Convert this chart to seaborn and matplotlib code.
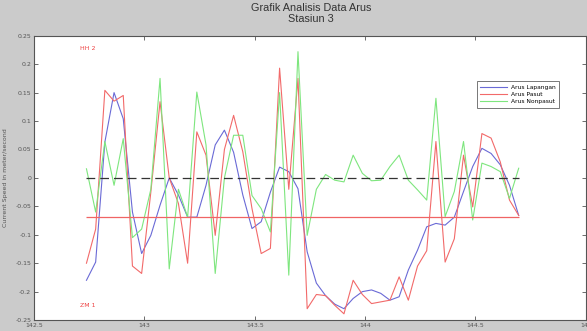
import numpy as np
import pandas as pd
import matplotlib
matplotlib.use("Agg")
import matplotlib.pyplot as plt
import seaborn as sns
from matplotlib.lines import Line2D

# ---- data ----
start_day = 142.7375          # first sample (day number)
n_hours = 48                  # hourly samples
arus_lapangan = [-0.180, -0.148, 0.063, 0.150, 0.104, -0.060, -0.133, -0.101, -0.048, 0.000,
                 -0.030, -0.069, -0.069, -0.013, 0.058, 0.084, 0.045, -0.030, -0.089, -0.077,
                 -0.025, 0.019, 0.011, -0.019, -0.130, -0.185, -0.207, -0.222, -0.230, -0.212,
                 -0.200, -0.197, -0.203, -0.215, -0.209, -0.162, -0.127, -0.086, -0.080, -0.083,
                 -0.069, -0.024, 0.020, 0.052, 0.043, 0.023, -0.013, -0.066]
arus_pasut = [-0.150, -0.090, 0.154, 0.135, 0.145, -0.155, -0.168, -0.025, 0.134, 0.000,
              -0.045, -0.150, 0.081, 0.040, -0.101, 0.050, 0.110, 0.046, -0.054, -0.133,
              -0.124, 0.193, -0.020, 0.175, -0.230, -0.205, -0.207, -0.224, -0.239, -0.180,
              -0.205, -0.221, -0.218, -0.215, -0.174, -0.215, -0.155, -0.128, 0.064, -0.148,
              -0.107, 0.040, -0.051, 0.078, 0.070, 0.028, -0.039, -0.066]
arus_nonpasut = [0.016, -0.060, 0.064, -0.013, 0.069, -0.105, -0.090, -0.020, 0.175, -0.160,
                 -0.020, -0.069, 0.151, 0.058, -0.168, 0.000, 0.075, 0.075, -0.031, -0.054,
                 -0.095, 0.150, -0.171, 0.222, -0.101, -0.020, 0.006, -0.004, -0.007, 0.040,
                 0.008, -0.005, -0.004, 0.020, 0.040, -0.004, -0.021, -0.039, 0.140, -0.068,
                 -0.024, 0.064, -0.074, 0.026, 0.020, 0.011, -0.036, 0.017]
series_names = ["Arus Lapangan", "Arus Pasut", "Arus Nonpasut"]
ref_levels = [0.0, -0.068]                 # dashed zero line, red level line
level_labels = ["HH 2", "ZM 1"]
level_label_y = [0.228, -0.224]
x_ticks = [142.5, 143, 143.5, 144, 144.5, 145]
x_ticklabels = ["142.5", "143", "143.5", "144", "144.5", "145"]
y_ticks = [0.25, 0.2, 0.15, 0.1, 0.05, 0, -0.05, -0.1, -0.15, -0.2, -0.25]
y_ticklabels = ["0.25", "0.2", "0.15", "0.1", "0.05", "0", "-0.05", "-0.1", "-0.15", "-0.2", "-0.25"]

hari = start_day + np.arange(n_hours) / 24.0
df = pd.DataFrame({
    "hari": np.tile(hari, 3),
    "arus": np.concatenate([arus_lapangan, arus_pasut, arus_nonpasut]),
    "seri": np.repeat(series_names, n_hours),
})

bg = "#cbcbcb"
colors = {"Arus Lapangan": "#6a6ad6", "Arus Pasut": "#f26a6a", "Arus Nonpasut": "#7ee67e"}

fig = plt.figure(figsize=(5.87, 3.31), dpi=100, facecolor=bg)
ax = fig.add_axes([0.058, 0.033, 0.940, 0.859])
ax.set_facecolor("white")

sns.lineplot(data=df, x="hari", y="arus", hue="seri", palette=colors,
             hue_order=series_names, linewidth=0.8, ax=ax, legend=False)

ax.hlines(ref_levels[0], hari[0], hari[-1], colors="#333333", linestyles=(0, (7, 4)), linewidth=0.9)
ax.hlines(ref_levels[1], hari[0], hari[-1], colors="#f06464", linestyles="-", linewidth=0.9)

for lab, yv in zip(level_labels, level_label_y):
    ax.text(142.71, yv, lab, color="#ee4444", fontsize=4.5, va="center", ha="left")

ax.set_xlim(142.5, 145)
ax.set_ylim(-0.25, 0.25)
ax.set_xticks(x_ticks)
ax.set_xticklabels(x_ticklabels)
ax.set_yticks(y_ticks)
ax.set_yticklabels(y_ticklabels)
ax.tick_params(direction="in", length=3, width=0.6, labelsize=4.5, colors="#555555",
               top=True, right=True, pad=2)
for s in ax.spines.values():
    s.set_color("#555555")
    s.set_linewidth(0.8)
ax.set_xlabel("")
ax.set_ylabel("Current Speed in meter/second", fontsize=4.5, color="#555555", labelpad=5)

fig.text(0.53, 0.975, "Grafik Analisis Data Arus", ha="center", va="center",
         fontsize=7.8, color="#333333", family="Liberation Sans")
fig.text(0.53, 0.942, "Stasiun 3", ha="center", va="center",
         fontsize=7.8, color="#333333", family="Liberation Sans")

handles = [Line2D([0], [0], color=colors[n], linewidth=0.8) for n in series_names]
leg = ax.legend(handles, series_names, loc="upper left", bbox_to_anchor=(0.797, 0.851),
                fontsize=4.3, frameon=True, fancybox=False, handlelength=4.5,
                borderpad=0.6, labelspacing=0.35, handletextpad=0.6)
leg.get_frame().set_edgecolor("#555555")
leg.get_frame().set_linewidth(0.7)

fig.savefig("out.png", dpi=100, facecolor=bg)
